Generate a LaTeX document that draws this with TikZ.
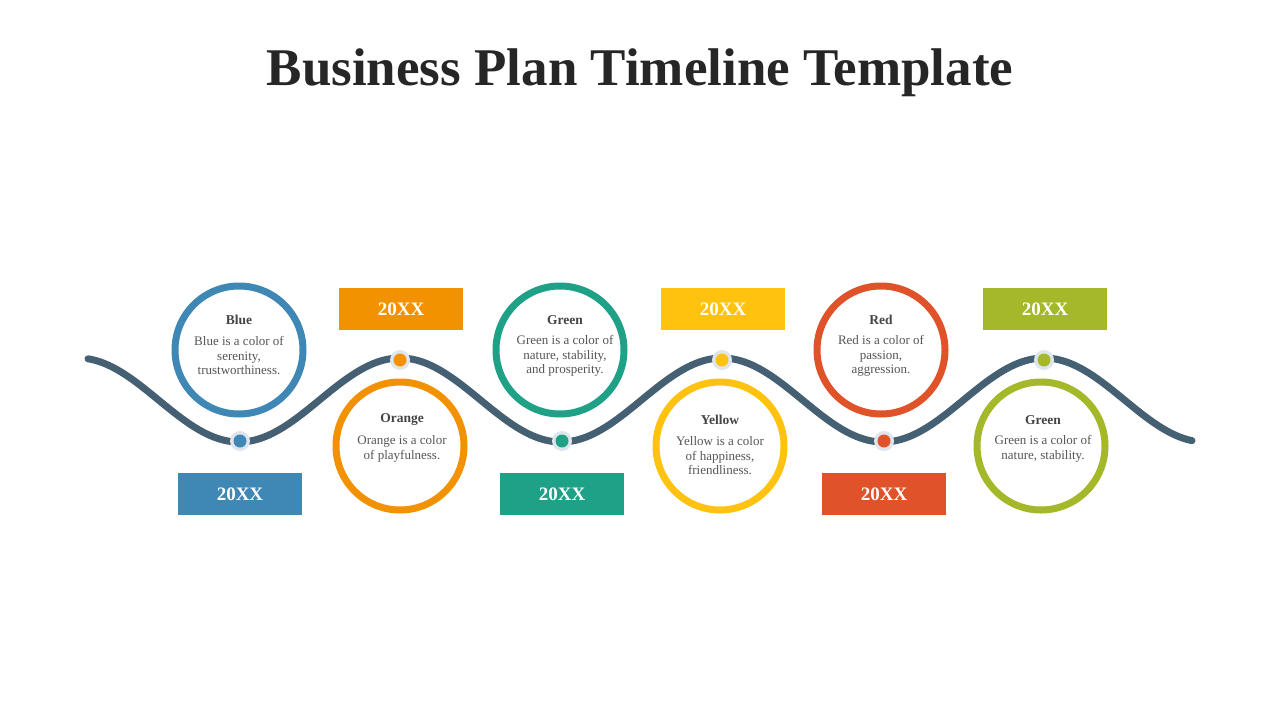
\documentclass[tikz,border=0pt]{standalone}
\usepackage{fontspec}
\setmainfont{Liberation Serif}
\definecolor{cblue}{HTML}{3F88B5}
\definecolor{corange}{HTML}{F39200}
\definecolor{cgreen}{HTML}{1FA187}
\definecolor{cyellow}{HTML}{FFC20E}
\definecolor{cred}{HTML}{E0532A}
\definecolor{colive}{HTML}{A4B82A}
\definecolor{cwave}{HTML}{455F73}
\definecolor{ctext}{HTML}{555555}
\definecolor{cring}{HTML}{DFE5EC}
\tikzset{
 ring/.style={circle,draw=#1,line width=7pt,minimum size=128pt,inner sep=0pt,fill=white},
 yearbox/.style={fill=#1,minimum width=124pt,minimum height=42pt,inner sep=0pt,text=white,font=\fontsize{19}{22}\selectfont\bfseries},
 dotout/.style={circle,fill=cring,minimum size=20pt,inner sep=0pt},
 dotin/.style={circle,fill=#1,minimum size=13pt,inner sep=0pt},
 ctitle/.style={text=ctext!80!black,font=\fontsize{13.5}{15}\selectfont\bfseries},
 cbody/.style={text=ctext,font=\fontsize{13}{14.5}\selectfont,align=center}
}
\begin{document}
\begin{tikzpicture}[x=1pt,y=-1pt]
\useasboundingbox[fill=white] (0,0) rectangle (1280,720);
\node[font=\fontsize{53}{60}\selectfont\bfseries,text=black!85] (title) at (640,73) {Business Plan Timeline Template};
\draw[cwave,line width=7pt,line cap=round] plot[domain=88:1192,samples=300,smooth] (\x,{400-42*cos((\x-400)/322*360)});
% rings
\foreach \n/\x/\y/\c in {a/239/350/cblue,b/400/446/corange,c/560/350/cgreen,d/720/446/cyellow,e/881/350/cred,f/1041/446/colive}{
  \node[ring=\c] (r\n) at (\x,\y) {};
}
\node[ctitle] (ta) at (239,320) {Blue};
\node[cbody] (ba) at (239,356) {Blue is a color of\\serenity,\\trustworthiness.};
\node[ctitle] (tb) at (402,420) {Orange};
\node[cbody] (bb) at (402,449) {Orange is a color\\of playfulness.};
\node[ctitle] (tc) at (565,320) {Green};
\node[cbody] (bc) at (565,356) {Green is a color of\\nature, stability,\\and prosperity.};
\node[ctitle] (td) at (720,420) {Yellow};
\node[cbody] (bd) at (720,456) {Yellow is a color\\of happiness,\\friendliness.};
\node[ctitle] (te) at (881,320) {Red};
\node[cbody] (be) at (881,356) {Red is a color of\\passion,\\aggression.};
\node[ctitle] (tf) at (1043,420) {Green};
\node[cbody] (bf) at (1043,449) {Green is a color of\\nature, stability.};
% dots
\foreach \n/\x/\y/\c in {a/240/441/cblue,b/400/360/corange,c/562/441/cgreen,d/722/360/cyellow,e/884/441/cred,f/1044/360/colive}{
  \node[dotout] (o\n) at (\x,\y) {};
  \node[dotin=\c] (i\n) at (\x,\y) {};
}
% boxes
\node[yearbox=cblue] (ya) at (240,494) {20XX};
\node[yearbox=corange] (yb) at (401,309) {20XX};
\node[yearbox=cgreen] (yc) at (562,494) {20XX};
\node[yearbox=cyellow] (yd) at (723,309) {20XX};
\node[yearbox=cred] (ye) at (884,494) {20XX};
\node[yearbox=colive] (yf) at (1045,309) {20XX};
\end{tikzpicture}
\end{document}
